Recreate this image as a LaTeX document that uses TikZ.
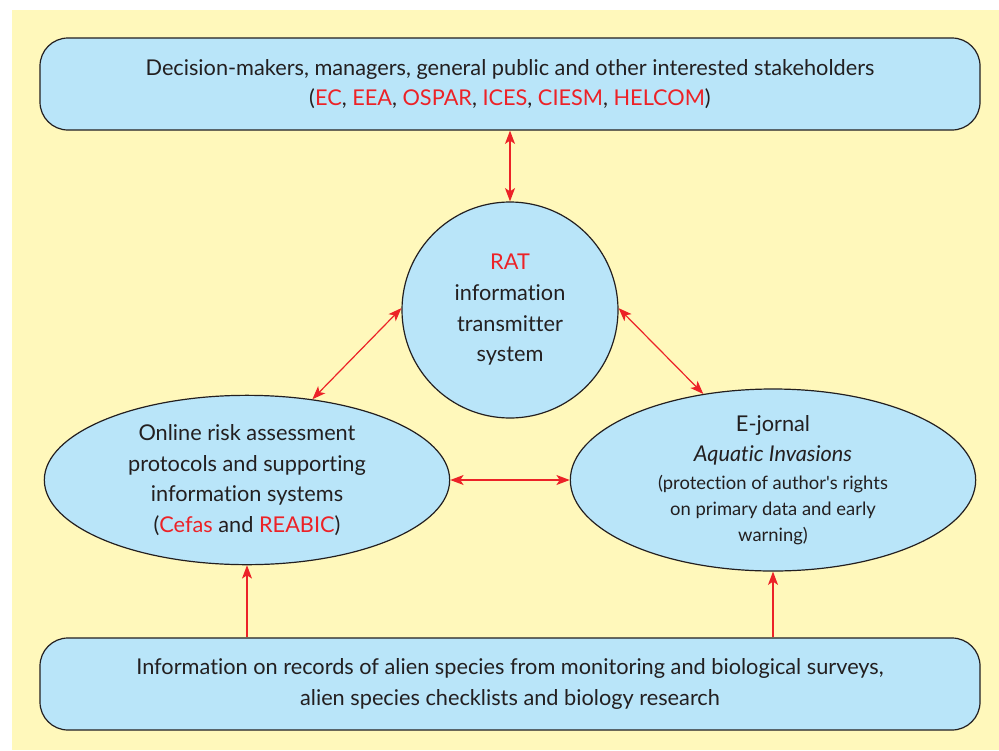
\documentclass[tikz,border=0pt]{standalone}
\usepackage{fontspec}
\setmainfont{Lato}[Ligatures=NoCommon]
\usepackage{xcolor}
\usetikzlibrary{arrows.meta,shapes.geometric}
\definecolor{bgyellow}{HTML}{FFF8BB}
\definecolor{boxblue}{HTML}{B9E5F9}
\definecolor{arrred}{HTML}{EC2227}
\definecolor{txtgray}{HTML}{231F20}
\newcommand{\red}[1]{\textcolor{arrred}{#1}}
\newcommand{\smalltxt}{\fontsize{13.8}{19.5}\selectfont}

\begin{document}
\begin{tikzpicture}[x=0.75pt,y=0.75pt,yscale=-1,xscale=1,
    shapebase/.style={draw=txtgray, line width=0.9pt, fill=boxblue, text=txtgray, align=center, inner sep=0pt, font=\fontsize{16.3}{23}\selectfont},
    wideblock/.style={shapebase, rounded corners=21pt, minimum width=705pt, minimum height=69pt},
    roundblock/.style={shapebase, circle, minimum size=162pt},
    ovalblock/.style={shapebase, ellipse, minimum width=304pt, minimum height=127pt},
    link/.style={draw=arrred, line width=0.9pt, {Stealth[length=10pt,width=7.5pt,inset=2.5pt]}-{Stealth[length=10pt,width=7.5pt,inset=2.5pt]}},
    uplink/.style={draw=arrred, line width=0.9pt, -{Stealth[length=10pt,width=7.5pt,inset=2.5pt]}}
]
        \useasboundingbox (0,0) rectangle (999,750);
        \fill [white] (0,0) rectangle (999,750);
        %Shape: Rectangle [background]
        \fill [bgyellow] (12,10) rectangle (999,750);

        %Shape: Rounded Rect [stakeholders]
        \node [wideblock] (users) at (510,84) {Decision-makers, managers, general public and other interested stakeholders\\(\red{EC}, \red{EEA}, \red{OSPAR}, \red{ICES}, \red{CIESM}, \red{HELCOM})};
        %Shape: Circle [RAT]
        \node [roundblock] (rat) at (510,310) {\red{RAT}\\information\\transmitter\\system};
        %Shape: Ellipse [risk assessment]
        \node [ovalblock] (risk) at (247,480) {Online risk assessment\\protocols and supporting\\information systems\\(\red{Cefas} and \red{REABIC})};
        %Shape: Ellipse [journal]
        \node [ovalblock] (journal) at (773,480) {E-jornal\\[-1pt]\textit{Aquatic Invasions}\\[-2pt]\smalltxt(protection of author\textquotesingle s rights\\[-3.5pt]\smalltxt on primary data and early\\[-3.5pt]\smalltxt warning)};
        %Shape: Rounded Rect [records]
        \node [wideblock] (records) at (510,684) {Information on records of alien species from monitoring and biological surveys,\\alien species checklists and biology research};

        % Arrows
        \draw [link] (users) -- (rat);
        \draw [link] (risk.51) -- (rat.179);
        \draw [link] (rat.1) -- (journal.129);
        \draw [link] (risk) -- (journal);
        \draw [uplink] (records.north -| risk.south) -- (risk.south);
        \draw [uplink] (records.north -| journal.south) -- (journal.south);
\end{tikzpicture}
\end{document}
